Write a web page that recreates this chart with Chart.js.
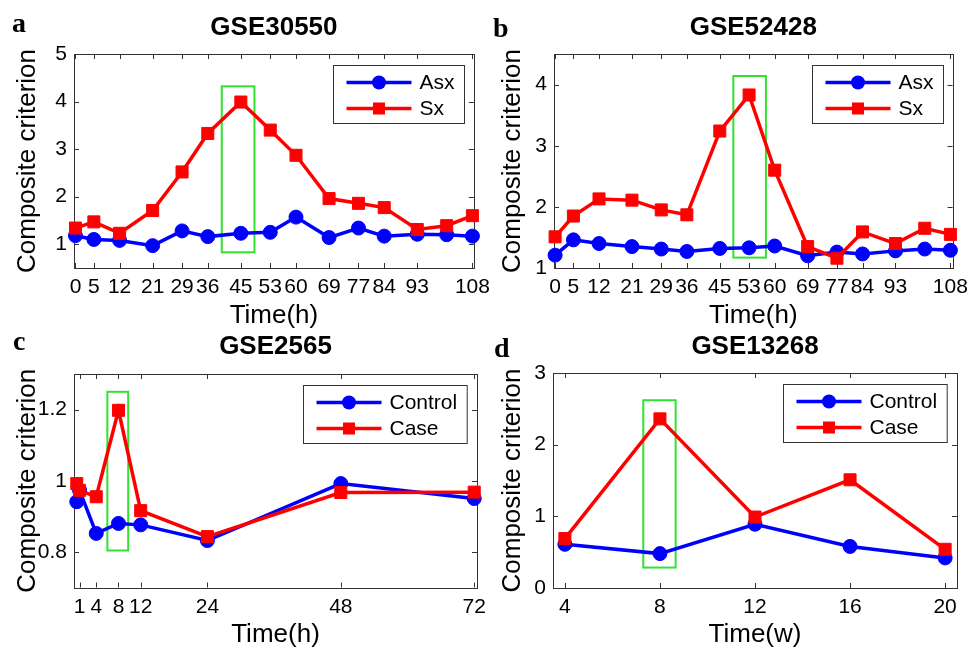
<!DOCTYPE html>
<html>
<head>
<meta charset="utf-8">
<script src="https://cdn.jsdelivr.net/npm/chart.js@4.4.0/dist/chart.umd.min.js"></script>
<style>
  html, body { margin: 0; padding: 0; background: #fff; }
  #wrap { position: relative; width: 975px; height: 648px; overflow: hidden; }
  canvas { position: absolute; }
</style>
</head>
<body>
<div id="wrap">
  <canvas id="chartA" width="497" height="332" style="left:0;top:0;width:497px;height:332px"></canvas>
  <canvas id="chartB" width="495" height="332" style="left:480px;top:0;width:495px;height:332px"></canvas>
  <canvas id="chartC" width="497" height="324" style="left:0;top:324px;width:497px;height:324px"></canvas>
  <canvas id="chartD" width="495" height="324" style="left:480px;top:324px;width:495px;height:324px"></canvas>
</div>
<script>
// ---- data ----
const hoursAB = [0, 5, 12, 21, 29, 36, 45, 53, 60, 69, 77, 84, 93, 101, 108];
const tickHoursAB = [0, 5, 12, 21, 29, 36, 45, 53, 60, 69, 77, 84, 93, 108];

const asxA = [1.18, 1.10, 1.08, 0.97, 1.28, 1.16, 1.23, 1.25, 1.57, 1.14, 1.34, 1.17, 1.21, 1.20, 1.17];
const sxA  = [1.34, 1.47, 1.23, 1.71, 2.52, 3.33, 3.99, 3.40, 2.87, 1.96, 1.86, 1.77, 1.31, 1.39, 1.60];
const yTicksA = [1, 2, 3, 4, 5];

const asxB = [1.21, 1.46, 1.40, 1.35, 1.31, 1.27, 1.32, 1.33, 1.36, 1.20, 1.26, 1.23, 1.28, 1.31, 1.29];
const sxB  = [1.51, 1.85, 2.13, 2.11, 1.95, 1.87, 3.24, 3.83, 2.60, 1.35, 1.16, 1.59, 1.40, 1.65, 1.55];
const yTicksB = [1, 2, 3, 4];

const hoursC = [0.5, 1, 4, 8, 12, 24, 48, 72];
const tickHoursC = [1, 4, 8, 12, 24, 48, 72];
const controlC = [0.941, 0.973, 0.852, 0.880, 0.876, 0.832, 0.992, 0.950];
const caseC    = [0.992, 0.973, 0.955, 1.198, 0.916, 0.843, 0.967, 0.968];
const yTicksC = [0.8, 1, 1.2];

const weeksD = [4, 8, 12, 16, 20];
const controlD = [0.61, 0.48, 0.89, 0.58, 0.42];
const caseD    = [0.69, 2.36, 0.99, 1.51, 0.54];
const yTicksD = [0, 1, 2, 3];

const FONT = '"Liberation Sans", Arial, Helvetica, sans-serif';
const BLUE = '#0000ff';
const RED = '#ff0000';

// frame, inward ticks, green highlight box, legend, title, panel letter
const matlabLook = {
    id: 'matlabLook',
    beforeDatasetsDraw(chart, args, opts) {
        const {ctx, chartArea: a, scales: {x, y}} = chart;
        ctx.save();
        ctx.strokeStyle = '#333';
        ctx.lineWidth = 1;
        ctx.strokeRect(Math.round(a.left) + 0.5, Math.round(a.top) + 0.5,
            Math.round(a.right - a.left), Math.round(a.bottom - a.top));
        ctx.beginPath();
        x.ticks.forEach(t => {
            const px = Math.round(x.getPixelForValue(t.value)) + 0.5;
            ctx.moveTo(px, a.bottom); ctx.lineTo(px, a.bottom - 5);
            ctx.moveTo(px, a.top); ctx.lineTo(px, a.top + 5);
        });
        y.ticks.forEach(t => {
            const py = Math.round(y.getPixelForValue(t.value)) + 0.5;
            ctx.moveTo(a.left, py); ctx.lineTo(a.left + 5, py);
            ctx.moveTo(a.right, py); ctx.lineTo(a.right - 5, py);
        });
        ctx.stroke();

        if (opts.box) {
            const [x0, x1, y0, y1] = opts.box;
            const l = x.getPixelForValue(x0), r = x.getPixelForValue(x1);
            const t = y.getPixelForValue(y1), b = y.getPixelForValue(y0);
            ctx.strokeStyle = '#2fe32f';
            ctx.lineWidth = 2;
            ctx.strokeRect(l, t, r - l, b - t);
        }
        ctx.restore();
    },
    afterDraw(chart, args, opts) {
        const {ctx, chartArea: a} = chart;
        ctx.save();
        // title
        ctx.fillStyle = '#000';
        ctx.font = 'bold 26px ' + FONT;
        ctx.textAlign = 'center';
        ctx.textBaseline = 'middle';
        ctx.fillText(opts.title, (a.left + a.right) / 2, opts.titleY);

        // panel letter
        ctx.font = 'bold 28px "Liberation Serif", "Times New Roman", serif';
        ctx.textAlign = 'left';
        ctx.textBaseline = 'alphabetic';
        ctx.fillText(opts.letter[0], opts.letter[1], opts.letter[2]);

        // legend box
        const sets = chart.data.datasets;
        ctx.font = '21px ' + FONT;
        const textW = Math.max(...sets.map(d => ctx.measureText(d.label).width));
        const w = 13 + 65 + 8 + textW + 10;
        const h = 58;
        const bx = Math.round(a.right - 10 - w) + 0.5;
        const by = Math.round(a.top + 11) + 0.5;
        ctx.fillStyle = '#fff';
        ctx.fillRect(bx, by, w, h);
        ctx.strokeStyle = '#333';
        ctx.lineWidth = 1;
        ctx.strokeRect(bx, by, w, h);
        sets.forEach((d, i) => {
            const ry = by + 17 + i * 26;
            ctx.strokeStyle = d.borderColor;
            ctx.lineWidth = d.borderWidth;
            ctx.beginPath();
            ctx.moveTo(bx + 13, ry); ctx.lineTo(bx + 78, ry);
            ctx.stroke();
            ctx.fillStyle = d.borderColor;
            if (d.pointStyle === 'rect') {
                ctx.fillRect(bx + 45.5 - 6, ry - 6, 12, 12);
            } else {
                ctx.beginPath();
                ctx.arc(bx + 45.5, ry, 7, 0, Math.PI * 2);
                ctx.fill();
            }
            ctx.fillStyle = '#000';
            ctx.textBaseline = 'middle';
            ctx.fillText(d.label, bx + 86, ry + 1);
        });
        ctx.restore();
    }
};

function series(label, color, style, xs, ys, order) {
    return {
        label: label,
        data: xs.map((v, i) => ({x: v, y: ys[i]})),
        borderColor: color,
        backgroundColor: color,
        borderWidth: 3.5,
        pointStyle: style,
        pointRadius: style === 'rect' ? 8.5 : 7,
        pointBorderWidth: 1,
        tension: 0,
        clip: false,
        order: order
    };
}

function makePanel(id, p) {
    const el = document.getElementById(id);
    if (!el) return;
    new Chart(el.getContext('2d'), {
        type: 'line',
        data: { datasets: p.datasets },
        plugins: [matlabLook],
        options: {
            responsive: false,
            devicePixelRatio: 1,
            animation: false,
            events: [],
            layout: { padding: { left: 0, right: p.padRight, top: p.padTop, bottom: 0 } },
            plugins: {
                legend: { display: false },
                tooltip: { enabled: false },
                matlabLook: { title: p.title, titleY: p.titleY, letter: p.letter, box: p.box }
            },
            scales: {
                x: {
                    type: 'linear',
                    min: p.xMin, max: p.xMax,
                    afterBuildTicks: s => { s.ticks = p.xTicks.map(v => ({value: v})); },
                    afterFit: s => { s.height = p.xH; },
                    grid: { display: false, drawTicks: false },
                    border: { display: false },
                    ticks: { color: '#000', font: { family: FONT, size: 21 }, padding: 7,
                             autoSkip: false, maxRotation: 0, callback: v => String(v) },
                    title: { display: true, text: p.xTitle, color: '#000',
                             font: { family: FONT, size: 26, lineHeight: 1 },
                             padding: { top: 0, bottom: p.xTitlePad } }
                },
                y: {
                    type: 'linear',
                    min: p.yMin, max: p.yMax,
                    afterBuildTicks: s => { s.ticks = p.yTicks.map(v => ({value: v})); },
                    afterFit: s => { s.width = p.yW; },
                    grid: { display: false, drawTicks: false },
                    border: { display: false },
                    ticks: { color: '#000', font: { family: FONT, size: 21 }, padding: 7,
                             autoSkip: false, callback: v => String(v) },
                    title: { display: true, text: 'Composite criterion', color: '#000',
                             font: { family: FONT, size: 26, lineHeight: 1 },
                             padding: { top: p.yTitlePad, bottom: 0 } }
                }
            }
        }
    });
}

// ==================== a: GSE30550 ====================
makePanel('chartA', {
    title: 'GSE30550', titleY: 28, letter: ['a', 12, 32],
    datasets: [series('Asx', BLUE, 'circle', hoursAB, asxA, 2),
               series('Sx', RED, 'rect', hoursAB, sxA, 1)],
    xMin: -0.4, xMax: 108.4, xTicks: tickHoursAB, xTitle: 'Time(h)',
    yMin: 0.5, yMax: 5, yTicks: yTicksA,
    box: [39.8, 48.7, 0.83, 4.32],
    padTop: 54, padRight: 20, yW: 74, xH: 64, yTitlePad: 14.5, xTitlePad: 3.5
});

// ==================== b: GSE52428 ====================
makePanel('chartB', {
    title: 'GSE52428', titleY: 28, letter: ['b', 13, 37],
    datasets: [series('Asx', BLUE, 'circle', hoursAB, asxB, 2),
               series('Sx', RED, 'rect', hoursAB, sxB, 1)],
    xMin: -0.3, xMax: 108.6, xTicks: tickHoursAB, xTitle: 'Time(h)',
    yMin: 1, yMax: 4.5, yTicks: yTicksB,
    box: [48.7, 57.6, 1.17, 4.14],
    padTop: 54, padRight: 18, yW: 74, xH: 64, yTitlePad: 19.5, xTitlePad: 3.5
});

// ==================== c: GSE2565 ====================
makePanel('chartC', {
    title: 'GSE2565', titleY: 23, letter: ['c', 13, 26],
    datasets: [series('Control', BLUE, 'circle', hoursC, controlC, 2),
               series('Case', RED, 'rect', hoursC, caseC, 1)],
    xMin: 0, xMax: 72.5, xTicks: tickHoursC, xTitle: 'Time(h)',
    yMin: 0.7, yMax: 1.3, yTicks: yTicksC,
    box: [6.0, 9.75, 0.804, 1.25],
    padTop: 50, padRight: 20, yW: 74, xH: 60.5, yTitlePad: 14.5, xTitlePad: 0.5
});

// ==================== d: GSE13268 ====================
makePanel('chartD', {
    title: 'GSE13268', titleY: 23, letter: ['d', 14, 33],
    datasets: [series('Control', BLUE, 'circle', weeksD, controlD, 2),
               series('Case', RED, 'rect', weeksD, caseD, 1)],
    xMin: 3.5, xMax: 20.5, xTicks: weeksD, xTitle: 'Time(w)',
    yMin: 0, yMax: 3, yTicks: yTicksD,
    box: [7.3, 8.66, 0.285, 2.62],
    padTop: 49, padRight: 18, yW: 73, xH: 60, yTitlePad: 19.5, xTitlePad: 0.5
});
</script>
</body>
</html>
